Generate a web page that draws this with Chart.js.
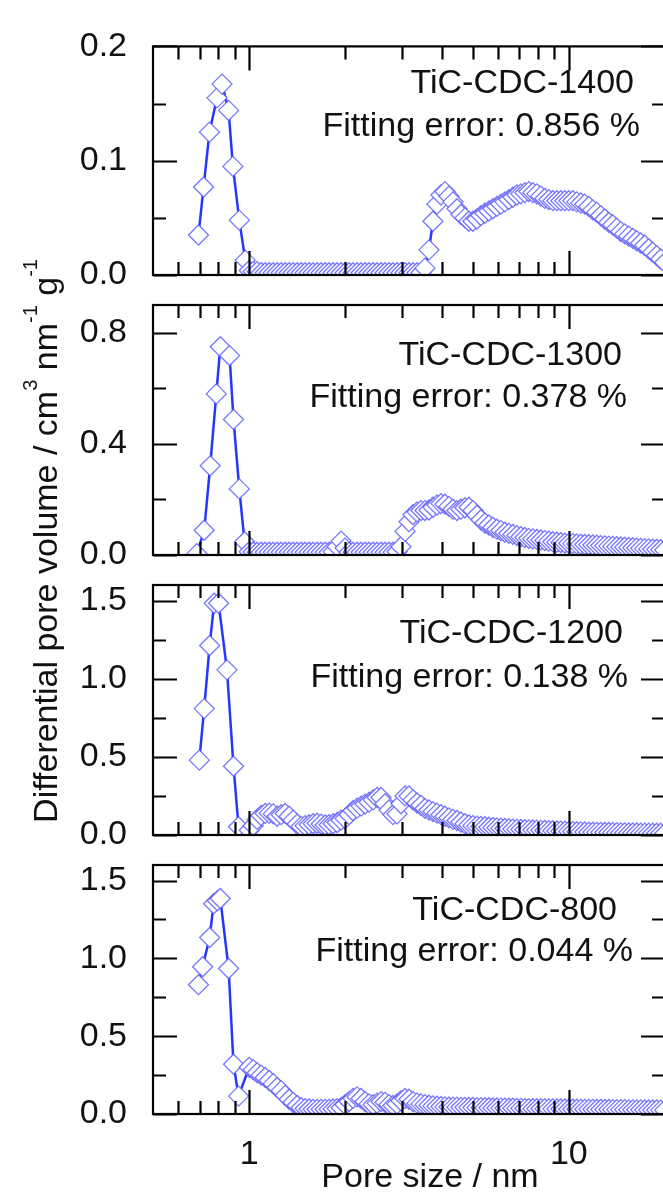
<!DOCTYPE html>
<html><head><meta charset="utf-8">
<script src="https://cdn.jsdelivr.net/npm/chart.js@4/dist/chart.umd.min.js"></script>
<style>
html,body{margin:0;padding:0;background:#fff;overflow:hidden;width:663px;height:1202px}
#wrap{position:relative;width:663px;height:1202px;overflow:hidden;background:#fff}
#wrap canvas{position:absolute;left:0;top:0}
</style></head><body><div id="wrap">
<canvas id="c1" width="700" height="1202"></canvas>
<canvas id="c2" width="700" height="1202"></canvas>
<canvas id="c3" width="700" height="1202"></canvas>
<canvas id="c4" width="700" height="1202"></canvas>
</div>
<script>
// ---------------- data ----------------
const sampleNames = ['TiC-CDC-1400','TiC-CDC-1300','TiC-CDC-1200','TiC-CDC-800'];
const fittingErrors = ['0.856','0.378','0.138','0.044'];

const xTickMajor = [1, 10];
const xTickMinor = [0.6,0.7,0.8,0.9,2,3,4,5,6,7,8,9];

// shared mesopore grid (nm)
const poreSizeMeso = [
1.000,1.029,1.059,1.090,1.122,1.155,1.189,1.223,1.259,1.296,
1.334,1.372,1.413,1.454,1.496,1.540,1.585,1.631,1.679,1.728,
1.778,1.830,1.884,1.939,1.995,2.054,2.113,2.175,2.239,2.304,
2.371,2.441,2.512,2.585,2.661,2.738,2.818,2.901,2.985,3.073,
3.162,3.255,3.350,3.447,3.548,3.652,3.758,3.868,3.981,4.097,
4.217,4.340,4.467,4.597,4.732,4.870,5.012,5.158,5.309,5.464,
5.623,5.788,5.957,6.131,6.310,6.494,6.683,6.879,7.079,7.286,
7.499,7.718,7.943,8.175,8.414,8.660,8.913,9.173,9.441,9.716,
10.00,10.29,10.59,10.90,11.22,11.55,11.89,12.23,12.59,12.96,
13.34,13.72,14.13,14.54,14.96,15.40,15.85,16.31,16.79,17.28,
17.78,18.30,18.84,19.39,19.95];

// TiC-CDC-1400
const poreMicro1400 = [0.694,0.720,0.751,0.793,0.822,0.862,0.889,0.931,0.972];
const dpvMicro1400  = [0.035,0.077,0.125,0.155,0.167,0.144,0.095,0.048,0.013];
const dpvMeso1400 = [
0.004,0.003,0.003,0.002,0.002,0.002,0.002,0.002,0.002,0.002,
0.002,0.002,0.002,0.002,0.002,0.002,0.002,0.002,0.002,0.002,
0.002,0.002,0.002,0.002,0.002,0.002,0.002,0.002,0.002,0.002,
0.002,0.002,0.002,0.002,0.002,0.002,0.002,0.002,0.002,0.002,
0.002,0.002,0.002,0.002,0.006,0.022,0.047,0.062,0.070,0.073,
0.069,0.064,0.058,0.053,0.050,0.047,0.047,0.049,0.052,0.054,
0.056,0.058,0.060,0.062,0.064,0.066,0.068,0.070,0.071,0.072,
0.073,0.072,0.071,0.069,0.067,0.066,0.065,0.065,0.065,0.065,
0.065,0.065,0.064,0.063,0.062,0.060,0.057,0.055,0.052,0.049,
0.046,0.044,0.041,0.038,0.036,0.034,0.032,0.030,0.028,0.026,
0.023,0.020,0.017,0.014,0.011];

// TiC-CDC-1300
const poreMicro1300 = [0.686,0.723,0.755,0.789,0.812,0.868,0.893,0.931,0.967];
const dpvMicro1300  = [0.005,0.089,0.321,0.580,0.750,0.718,0.488,0.238,0.048];
const dpvMeso1300 = [
0.012,0.011,0.010,0.010,0.010,0.010,0.010,0.010,0.010,0.010,
0.010,0.010,0.010,0.010,0.010,0.010,0.010,0.010,0.010,0.010,
0.010,0.012,0.030,0.050,0.025,0.010,0.010,0.010,0.010,0.010,
0.010,0.010,0.010,0.010,0.010,0.010,0.010,0.012,0.030,0.085,
0.120,0.145,0.155,0.160,0.160,0.162,0.172,0.180,0.185,0.183,
0.175,0.165,0.160,0.165,0.170,0.172,0.160,0.143,0.127,0.115,
0.108,0.100,0.093,0.088,0.082,0.078,0.074,0.070,0.066,0.063,
0.060,0.058,0.056,0.054,0.052,0.050,0.048,0.046,0.045,0.043,
0.042,0.041,0.040,0.039,0.038,0.037,0.036,0.035,0.034,0.033,
0.032,0.031,0.030,0.029,0.028,0.027,0.026,0.025,0.024,0.023,
0.022,0.021,0.020,0.019,0.018];

// TiC-CDC-1200
const poreMicro1200 = [0.698,0.723,0.752,0.777,0.802,0.852,0.893,0.926];
const dpvMicro1200  = [0.479,0.809,1.213,1.483,1.483,1.057,0.440,0.053];
const dpvMeso1200 = [
0.030,0.060,0.100,0.125,0.138,0.140,0.135,0.120,0.130,0.138,
0.120,0.095,0.070,0.055,0.060,0.066,0.072,0.075,0.070,0.064,
0.066,0.072,0.080,0.095,0.105,0.130,0.155,0.172,0.185,0.198,
0.210,0.225,0.240,0.240,0.200,0.160,0.130,0.135,0.200,0.250,
0.250,0.225,0.205,0.190,0.170,0.160,0.150,0.140,0.130,0.120,
0.110,0.100,0.093,0.083,0.072,0.064,0.060,0.057,0.055,0.053,
0.050,0.048,0.046,0.044,0.042,0.040,0.038,0.036,0.035,0.034,
0.033,0.032,0.031,0.030,0.029,0.028,0.027,0.026,0.025,0.024,
0.023,0.022,0.021,0.020,0.019,0.018,0.018,0.017,0.017,0.016,
0.016,0.015,0.015,0.014,0.014,0.013,0.013,0.013,0.012,0.012,
0.012,0.011,0.011,0.011,0.010];

// TiC-CDC-800
const poreMicro800 = [0.694,0.715,0.752,0.774,0.795,0.812,0.862,0.893,0.926];
const dpvMicro800  = [0.831,0.946,1.134,1.351,1.370,1.385,0.935,0.320,0.115];
const dpvMeso800 = [
0.300,0.285,0.265,0.250,0.235,0.215,0.195,0.170,0.150,0.120,
0.095,0.075,0.055,0.040,0.035,0.032,0.030,0.030,0.030,0.030,
0.030,0.032,0.035,0.040,0.060,0.080,0.100,0.110,0.100,0.080,
0.065,0.060,0.070,0.080,0.075,0.060,0.055,0.065,0.085,0.100,
0.095,0.080,0.070,0.065,0.060,0.056,0.052,0.050,0.048,0.046,
0.045,0.044,0.044,0.043,0.043,0.042,0.042,0.041,0.041,0.040,
0.040,0.039,0.039,0.038,0.038,0.037,0.037,0.036,0.036,0.035,
0.035,0.034,0.034,0.034,0.033,0.033,0.033,0.032,0.032,0.032,
0.031,0.031,0.031,0.030,0.030,0.030,0.030,0.029,0.029,0.029,
0.029,0.028,0.028,0.028,0.028,0.027,0.027,0.027,0.027,0.026,
0.026,0.026,0.026,0.025,0.025];

const yMax = [0.2, 0.9, 1.6, 1.6];
const yTickMajor = [[0,0.1,0.2],[0,0.4,0.8],[0,0.5,1.0,1.5],[0,0.5,1.0,1.5]];
const yTickMinor = [[0.05,0.15],[0.2,0.6],[0.25,0.75,1.25],[0.25,0.75,1.25]];

// ---------------- layout / style ----------------
const W = 700, H = 1202;
const PLOT_LEFT = 153, PLOT_RIGHT = 665;
const panelTop = [25, 305, 585, 865];
const panelBottom = [275, 555, 835, 1114];
const X_AXIS_H = 60;
const FONT = '"Liberation Sans", Arial, Helvetica, sans-serif';
const LINE_COLOR = 'rgb(35,55,255)';
const MARK_COLOR = 'rgba(95,95,255,0.85)';
const annotPos = [
  [[634,93],[640,136]],
  [[622,365],[627,407]],
  [[623,643],[628,687]],
  [[617,920],[633,961]]
];

const framePlugin = {
  id: 'frame',
  afterDraw(chart, args, opts) {
    const {ctx, chartArea: a, scales: {x, y}} = chart;
    ctx.save();
    ctx.strokeStyle = '#000';
    ctx.lineWidth = 2.2;
    ctx.lineCap = 'butt';
    ctx.strokeRect(a.left, a.top, a.right - a.left, a.bottom - a.top);
    ctx.beginPath();
    const xt = (v, len) => {
      const px = Math.round(x.getPixelForValue(v)) + 0.5;
      ctx.moveTo(px, a.top); ctx.lineTo(px, a.top + len);
      ctx.moveTo(px, a.bottom); ctx.lineTo(px, a.bottom - len);
    };
    const yt = (v, len) => {
      const py = Math.round(y.getPixelForValue(v)) + 0.5;
      ctx.moveTo(a.left, py); ctx.lineTo(a.left + len, py);
      ctx.moveTo(a.right, py); ctx.lineTo(a.right - len, py);
    };
    xTickMajor.forEach(v => xt(v, 24));
    xTickMinor.forEach(v => xt(v, 13));
    opts.yMajor.forEach(v => yt(v, 24));
    opts.yMinor.forEach(v => yt(v, 13));
    ctx.stroke();
    ctx.restore();
  }
};

const annotPlugin = {
  id: 'annot',
  afterDraw(chart, args, opts) {
    const ctx = chart.ctx;
    ctx.save();
    ctx.fillStyle = '#111';
    ctx.font = '34px ' + FONT;
    ctx.textAlign = 'right';
    ctx.textBaseline = 'alphabetic';
    opts.lines.forEach(l => ctx.fillText(l.text, l.x, l.y));
    ctx.restore();
  }
};

const titlePlugin = {
  id: 'titles',
  afterDraw(chart, args, opts) {
    if (!opts.show) return;
    const ctx = chart.ctx;
    ctx.save();
    ctx.fillStyle = '#111';
    ctx.font = '34px ' + FONT;
    ctx.textAlign = 'center';
    ctx.textBaseline = 'alphabetic';
    ctx.fillText('Pore size / nm', 430, 1187);
    const parts = [
      ['Differential pore volume / cm', false],
      ['3', true],
      [' nm', false],
      ['-1', true],
      [' g', false],
      ['-1', true]
    ];
    const big = '34px ' + FONT, small = '20px ' + FONT;
    let total = 0;
    parts.forEach(p => { ctx.font = p[1] ? small : big; total += ctx.measureText(p[0]).width; });
    ctx.translate(57, 541);
    ctx.rotate(-Math.PI / 2);
    ctx.textAlign = 'left';
    let cx = -total / 2;
    parts.forEach(p => {
      ctx.font = p[1] ? small : big;
      ctx.fillText(p[0], cx, p[1] ? -20 : 0);
      cx += ctx.measureText(p[0]).width;
    });
    ctx.restore();
  }
};

function pts(xs, ys) { return xs.map((v, i) => ({x: v, y: ys[i]})); }

const seriesX = [
  poreMicro1400.concat(poreSizeMeso),
  poreMicro1300.concat(poreSizeMeso),
  poreMicro1200.concat(poreSizeMeso),
  poreMicro800.concat(poreSizeMeso)
];
const seriesY = [
  dpvMicro1400.concat(dpvMeso1400),
  dpvMicro1300.concat(dpvMeso1300),
  dpvMicro1200.concat(dpvMeso1200),
  dpvMicro800.concat(dpvMeso800)
];

for (let i = 0; i < 4; i++) {
  const isBottom = i === 3;
  new Chart(document.getElementById('c' + (i + 1)), {
    type: 'line',
    data: {
      datasets: [{
        data: pts(seriesX[i], seriesY[i]),
        borderColor: LINE_COLOR,
        borderWidth: 2.5,
        tension: 0,
        fill: false,
        pointStyle: 'rectRot',
        pointRadius: 10,
        pointBorderWidth: 1.3,
        pointBorderColor: MARK_COLOR,
        pointBackgroundColor: '#ffffff',
        clip: 0
      }]
    },
    options: {
      responsive: false,
      animation: false,
      devicePixelRatio: 1,
      events: [],
      layout: {padding: {left: 0, right: W - PLOT_RIGHT, top: panelTop[i],
        bottom: isBottom ? H - panelBottom[i] - X_AXIS_H : H - panelBottom[i]}},
      plugins: {
        legend: {display: false},
        tooltip: {enabled: false},
        frame: {yMajor: yTickMajor[i], yMinor: yTickMinor[i]},
        annot: {lines: [
          {text: sampleNames[i], x: annotPos[i][0][0], y: annotPos[i][0][1]},
          {text: 'Fitting error: ' + fittingErrors[i] + ' %', x: annotPos[i][1][0], y: annotPos[i][1][1]}
        ]},
        titles: {show: isBottom}
      },
      scales: {
        x: {
          type: 'logarithmic', min: 0.5, max: 20,
          display: isBottom,
          afterBuildTicks: s => { s.ticks = xTickMajor.map(v => ({value: v})); },
          afterFit: s => { s.height = isBottom ? X_AXIS_H : 0; },
          grid: {display: false, drawTicks: false},
          border: {display: false},
          ticks: {color: '#111', font: {family: FONT, size: 34}, padding: 20,
                  maxRotation: 0, autoSkip: false, callback: v => String(v)}
        },
        y: {
          type: 'linear', min: 0, max: yMax[i],
          afterBuildTicks: s => { s.ticks = yTickMajor[i].map(v => ({value: v})); },
          afterFit: s => { s.width = PLOT_LEFT; },
          grid: {display: false, drawTicks: false},
          border: {display: false},
          ticks: {color: '#111', font: {family: FONT, size: 34}, padding: 26,
                  callback: v => Number(v).toFixed(1)}
        }
      }
    },
    plugins: [framePlugin, annotPlugin, titlePlugin]
  });
}
</script>
</body></html>
